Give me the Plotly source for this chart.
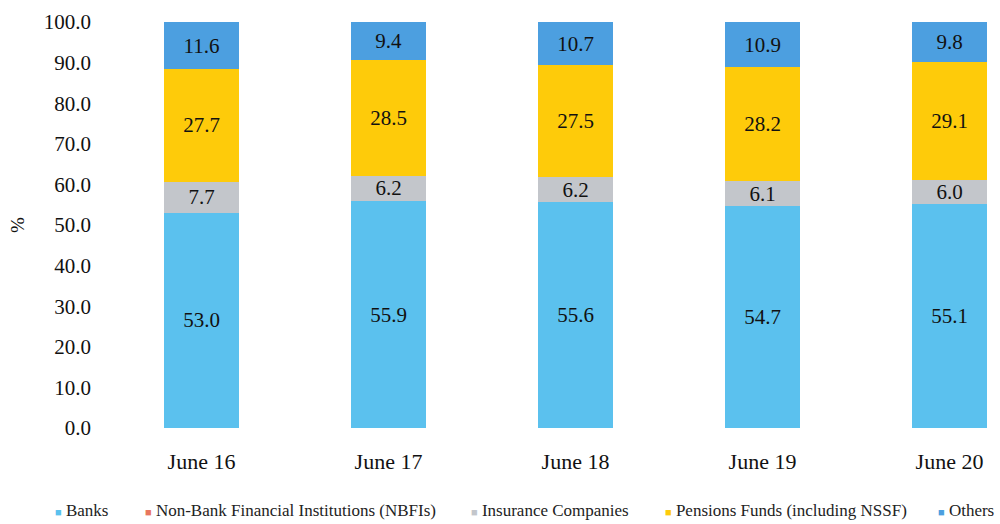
import plotly.graph_objects as go

categories = ["June 16", "June 17", "June 18", "June 19", "June 20"]
banks = [53.0, 55.9, 55.6, 54.7, 55.1]
nbfis = [0.0, 0.0, 0.0, 0.0, 0.0]
insurance = [7.7, 6.2, 6.2, 6.1, 6.0]
pensions = [27.7, 28.5, 27.5, 28.2, 29.1]
others = [11.6, 9.4, 10.7, 10.9, 9.8]
y_ticks = [0, 10, 20, 30, 40, 50, 60, 70, 80, 90, 100]

series = [
    ("Banks", banks, "#5BC1EE", True),
    ("Non-Bank Financial Institutions (NBFIs)", nbfis, "#E8765E", False),
    ("Insurance Companies", insurance, "#C3C6CB", True),
    ("Pensions Funds (including NSSF)", pensions, "#FECB0A", True),
    ("Others", others, "#4C9FE0", True),
]
legend_x_px = [53, 143, 469, 663, 936]

L, R, T, B = 108, 0, 22, 96
W = 1000 - L - R
H = 524 - T - B

fig = go.Figure()
for name, vals, color, labelled in series:
    fig.add_trace(go.Bar(
        x=categories, y=vals, name=name,
        marker=dict(color=color, line=dict(width=0)),
        text=[f"{v:.1f}" for v in vals] if labelled else None,
        textposition="inside" if labelled else "none",
        insidetextanchor="middle",
        textangle=0,
        constraintext="none",
        textfont=dict(family="Liberation Serif", size=21, color="#111111"),
        showlegend=False,
    ))

annotations = []
legend_y = (T + H - 510) / H
for (name, vals, color, labelled), px in zip(series, legend_x_px):
    annotations.append(dict(
        xref="paper", yref="paper", x=(px - L) / W, y=legend_y,
        xanchor="left", yanchor="middle", showarrow=False,
        text=f"<span style='color:{color};font-size:11px'>■</span> {name}",
        font=dict(family="Liberation Serif", size=17, color="#222222"),
    ))

fig.update_layout(
    barmode="stack",
    bargap=0.6,
    width=1000, height=524,
    margin=dict(l=L, r=R, t=T, b=B),
    plot_bgcolor="white", paper_bgcolor="white",
    xaxis=dict(
        range=[-0.5, 4.27],
        showline=False, showgrid=False, zeroline=False,
        tickfont=dict(family="Liberation Serif", size=22, color="#111111"),
        ticklabelstandoff=18,
    ),
    yaxis=dict(
        range=[0, 100],
        tickvals=y_ticks,
        ticktext=[f"{v:.1f}" for v in y_ticks],
        showline=False, showgrid=False, zeroline=False,
        tickfont=dict(family="Liberation Serif", size=21, color="#111111"),
        ticklabelstandoff=16,
        title=dict(text="%", font=dict(family="Liberation Serif", size=19, color="#111111"), standoff=14),
    ),
    annotations=annotations,
)

fig.write_html(
    "out.html",
    config={"responsive": False, "displayModeBar": False},
    default_width="1000px",
    default_height="524px",
    post_script="document.body.style.margin='0';document.body.style.padding='0';document.body.style.overflow='hidden';",
)
